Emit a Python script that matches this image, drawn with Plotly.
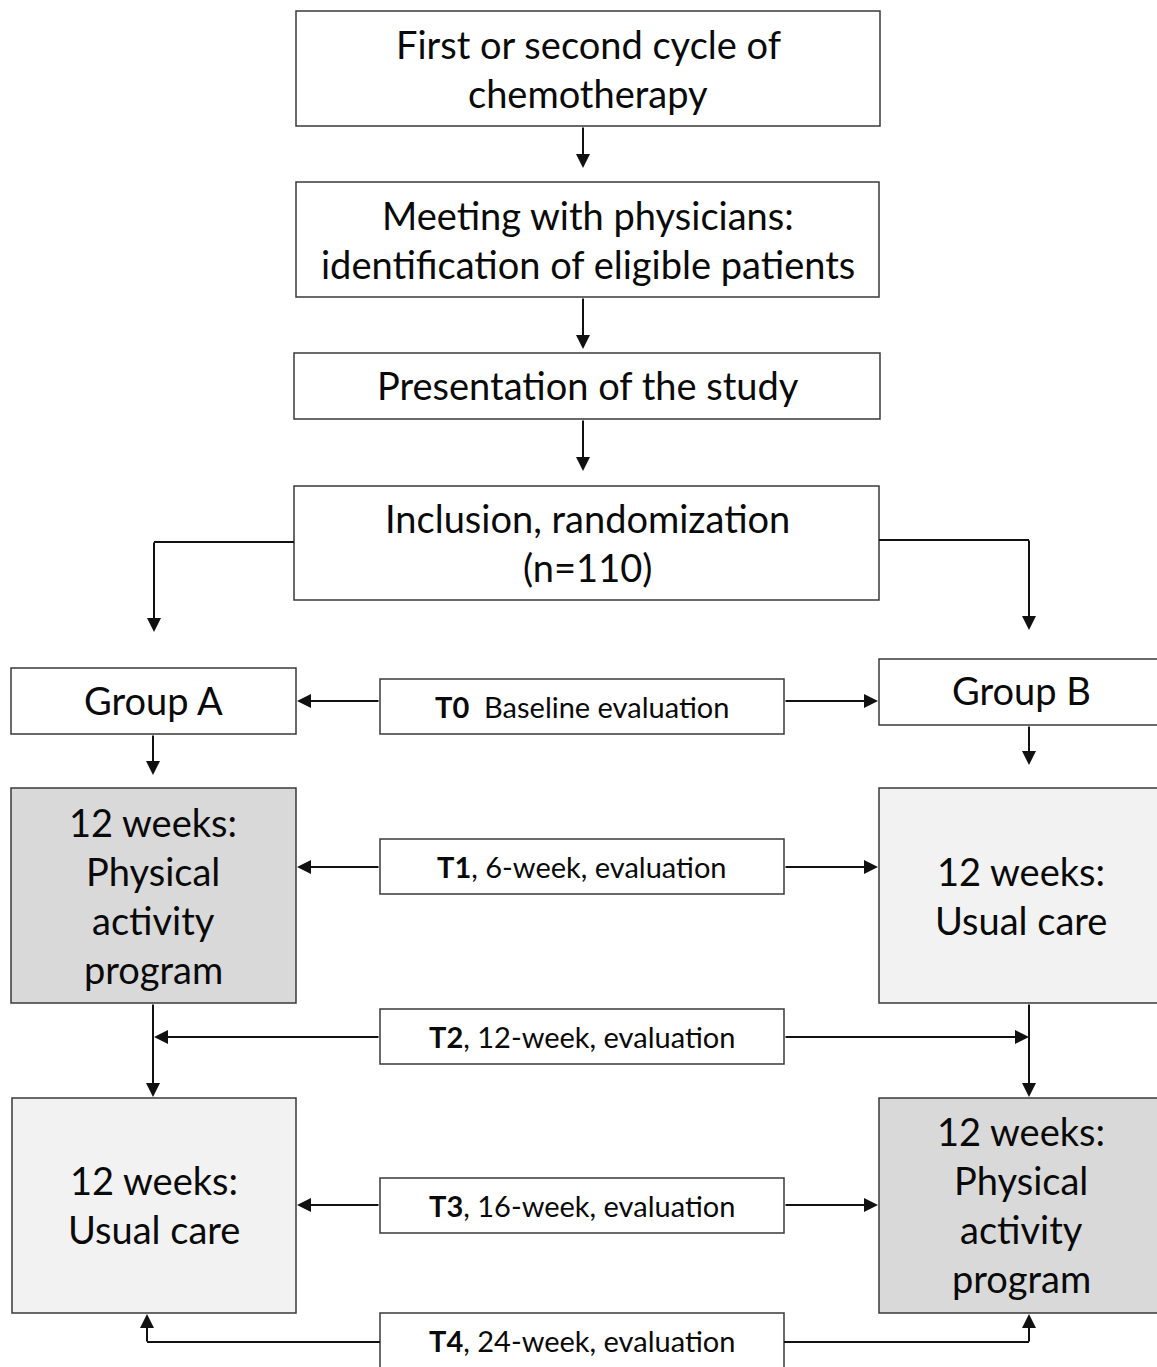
import plotly.graph_objects as go

# ---- content (labels) ----
box_labels = [
    ["First or second cycle of", "chemotherapy"],
    ["Meeting with physicians:", "identification of eligible patients"],
    ["Presentation of the study"],
    ["Inclusion, randomization", "(n=110)"],
    ["Group A"],
    ["Group B"],
    ["12 weeks:", "Physical", "activity", "program"],
    ["12 weeks:", "Usual care"],
    ["12 weeks:", "Usual care"],
    ["12 weeks:", "Physical", "activity", "program"],
]
eval_labels = [
    "<b>T0</b>  Baseline evaluation",
    "<b>T1</b>, 6-week, evaluation",
    "<b>T2</b>, 12-week, evaluation",
    "<b>T3</b>, 16-week, evaluation",
    "<b>T4</b>, 24-week, evaluation",
]

# ---- layout (pixel geometry) ----
W, H = 1157, 1367
box_geom = [  # x0, y0, x1, y1, fill
    (296, 11, 880, 126, "white"),
    (296, 182, 879, 297, "white"),
    (294, 353, 880, 419, "white"),
    (294, 486, 879, 600, "white"),
    (11, 668, 296, 734, "white"),
    (879, 659, 1160, 725, "white"),
    (11, 788, 296, 1003, "#d9d9d9"),
    (879, 788, 1160, 1003, "#f2f2f2"),
    (12, 1098, 296, 1313, "#f2f2f2"),
    (879, 1098, 1160, 1313, "#d9d9d9"),
]
text_center_x = [588, 588, 588, 587, 153, 1021, 153, 1021, 154, 1021]
text_center_y = [68, 239, 385, 542, 700, 690, 895, 895, 1204, 1204]
eval_geom = [  # x0, y0, x1, y1
    (380, 679, 784, 734),
    (380, 839, 784, 894),
    (380, 1009, 784, 1064),
    (380, 1178, 784, 1233),
    (380, 1313, 784, 1372),
]
eval_text_y = [706, 866, 1036, 1205, 1340]

BIG = 38
SMALL = 29
LINE = 49
FONT = "Lato"
EDGE = "#3a3a3a"
ARROW = "#111111"

fig = go.Figure()
shapes = []
annotations = []

for (x0, y0, x1, y1, fill), lines, cx, cy in zip(box_geom, box_labels, text_center_x, text_center_y):
    shapes.append(dict(type="rect", x0=x0, y0=y0, x1=x1, y1=y1, xref="x", yref="y",
                       line=dict(color=EDGE, width=1.5), fillcolor=fill, layer="below"))
    n = len(lines)
    for i, t in enumerate(lines):
        y = cy + (i - (n - 1) / 2) * LINE
        annotations.append(dict(x=cx, y=y, xref="x", yref="y", text=t, showarrow=False,
                                font=dict(family=FONT, size=BIG, color="#0a0a0a"),
                                xanchor="center", yanchor="middle"))

for (x0, y0, x1, y1), t, ty in zip(eval_geom, eval_labels, eval_text_y):
    shapes.append(dict(type="rect", x0=x0, y0=y0, x1=x1, y1=y1, xref="x", yref="y",
                       line=dict(color=EDGE, width=1.5), fillcolor="white", layer="below"))
    annotations.append(dict(x=(x0 + x1) / 2, y=ty, xref="x", yref="y", text=t, showarrow=False,
                            font=dict(family=FONT, size=SMALL, color="#0a0a0a"),
                            xanchor="center", yanchor="middle"))

# plain connector segments (no arrowheads)
segments = [
    ((294, 542), (154, 542)),
    ((879, 540), (1029, 540)),
    ((380, 1342), (147, 1342)),
    ((784, 1342), (1029, 1342)),
]
for (ax_, ay_), (bx, by) in segments:
    shapes.append(dict(type="line", x0=ax_, y0=ay_, x1=bx, y1=by, xref="x", yref="y",
                       line=dict(color=ARROW, width=2)))

# arrows: (tail, head)
arrows = [
    ((583, 126), (583, 168)),
    ((583, 297), (583, 349)),
    ((583, 419), (583, 471)),
    ((154, 541), (154, 632)),
    ((1029, 539), (1029, 630)),
    ((380, 701), (297, 701)),
    ((784, 701), (878, 701)),
    ((153, 734), (153, 775)),
    ((1029, 725), (1029, 765)),
    ((380, 867), (297, 867)),
    ((784, 867), (878, 867)),
    ((153, 1003), (153, 1097)),
    ((380, 1037), (154, 1037)),
    ((1029, 1003), (1029, 1097)),
    ((784, 1037), (1029, 1037)),
    ((380, 1205), (297, 1205)),
    ((784, 1205), (878, 1205)),
    ((147, 1343), (147, 1314)),
    ((1029, 1343), (1029, 1314)),
]
for (tx, ty), (hx, hy) in arrows:
    annotations.append(dict(x=hx, y=hy, ax=tx, ay=ty, xref="x", yref="y", axref="x", ayref="y",
                            text="", showarrow=True, arrowhead=2, arrowsize=1.4, arrowwidth=2,
                            arrowcolor=ARROW, standoff=0, startstandoff=0))

fig.update_layout(
    width=W, height=H,
    margin=dict(l=0, r=0, t=0, b=0),
    paper_bgcolor="white", plot_bgcolor="white",
    xaxis=dict(range=[0, W], visible=False, fixedrange=True),
    yaxis=dict(range=[H, 0], visible=False, fixedrange=True),
    shapes=shapes, annotations=annotations, showlegend=False,
)
fig.write_html("out.html", config={"displayModeBar": False},
               post_script="document.body.style.margin='0px';document.body.style.overflow='hidden';")
